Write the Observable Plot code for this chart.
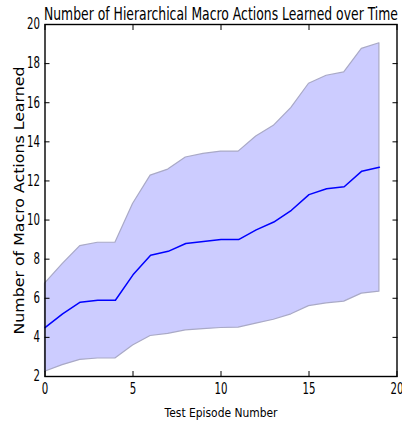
<!DOCTYPE html>
<html>
<head>
<meta charset="utf-8">
<script src="https://cdn.jsdelivr.net/npm/d3@7"></script>
<script src="https://cdn.jsdelivr.net/npm/@observablehq/plot@0.6"></script>
<style>
  html, body { margin: 0; padding: 0; background: #fff; }
  svg { display: block; }
</style>
</head>
<body>
<div id="chart"></div>
<script>
const episodes = [0,1,2,3,4,5,6,7,8,9,10,11,12,13,14,15,16,17,18,19];
const meanMacros = [4.5,5.2,5.8,5.9,5.9,7.2,8.2,8.4,8.8,8.9,9.0,9.0,9.5,9.9,10.5,11.3,11.6,11.7,12.5,12.7];
const upperMacros = [6.75,7.75,8.67,8.84,8.84,10.82,12.27,12.58,13.2,13.38,13.5,13.5,14.27,14.82,15.74,16.97,17.38,17.55,18.75,19.04];
const lowerMacros = [2.24,2.58,2.85,2.92,2.92,3.59,4.07,4.18,4.36,4.42,4.48,4.5,4.7,4.9,5.18,5.6,5.74,5.83,6.24,6.34];
const xTicks = [0,5,10,15,20];
const yTicks = [2,4,6,8,10,12,14,16,18,20];
const titleText = "Number of Hierarchical Macro Actions Learned over Time";
const xLabel = "Test Episode Number";
const yLabel = "Number of Macro Actions Learned";

const rows = episodes.map((e, i) => ({episode: e, mean: meanMacros[i], lo: lowerMacros[i], hi: upperMacros[i]}));

const font = "DejaVu Sans, sans-serif";

const chart = Plot.plot({
  width: 402,
  height: 422,
  marginLeft: 44.5,
  marginRight: 5.5,
  marginTop: 24,
  marginBottom: 46,
  style: {fontFamily: font, fontSize: "15px", background: "#fff", color: "#000"},
  x: {domain: [0, 20]},
  y: {domain: [2, 20]},
  marks: [
    Plot.areaY(rows, {x: "episode", y1: "lo", y2: "hi", fill: "#ccccff", stroke: "#a9a9c6", strokeWidth: 1.2}),
    Plot.lineY(rows, {x: "episode", y: "mean", stroke: "#0000ff", strokeWidth: 1.5}),
    Plot.axisX(xTicks, {anchor: "bottom", tickSize: -5, tickFormat: () => "", label: null, strokeWidth: 1}),
    Plot.axisX(xTicks, {anchor: "top", tickSize: -5, tickFormat: () => "", label: null, strokeWidth: 1}),
    Plot.axisY(yTicks, {anchor: "left", tickSize: -5, tickFormat: () => "", label: null, strokeWidth: 1}),
    Plot.axisY(yTicks, {anchor: "right", tickSize: -5, tickFormat: () => "", label: null, strokeWidth: 1}),
    Plot.axisX(xTicks, {anchor: "bottom", tickSize: 0, tickPadding: 7, label: null, fontSize: 15, className: "ticklab"}),
    Plot.axisY(yTicks, {anchor: "left", tickSize: 0, tickPadding: 5, label: null, fontSize: 15, className: "ticklab"}),
    Plot.frame({stroke: "#000", strokeWidth: 1.4}),
    Plot.text([titleText], {frameAnchor: "top", dy: -5, lineAnchor: "bottom", fontSize: 17, fill: "#000", className: "titlelab"}),
    Plot.text([xLabel], {frameAnchor: "bottom", dy: 40.5, lineAnchor: "bottom", fontSize: 13, fill: "#000", className: "xlab"}),
    Plot.text([yLabel], {frameAnchor: "left", dx: -21.5, rotate: -90, textAnchor: "middle", lineAnchor: "bottom", fontSize: 14.5, fill: "#000", className: "ylab"})
  ]
});

document.getElementById("chart").appendChild(chart);

// Condense text widths to match the narrow lettering of the original.
function squeeze(selector, fn) {
  d3.select(chart).selectAll(selector).each(function() {
    const w = this.getComputedTextLength();
    if (w > 0) {
      this.setAttribute("textLength", fn(w));
      this.setAttribute("lengthAdjust", "spacingAndGlyphs");
    }
  });
}
squeeze("g.ticklab text", w => w * 0.68);
squeeze("g.titlelab text", () => 354);
squeeze("g.xlab text", () => 113);
squeeze("g.ylab text", () => 268);
</script>
</body>
</html>
